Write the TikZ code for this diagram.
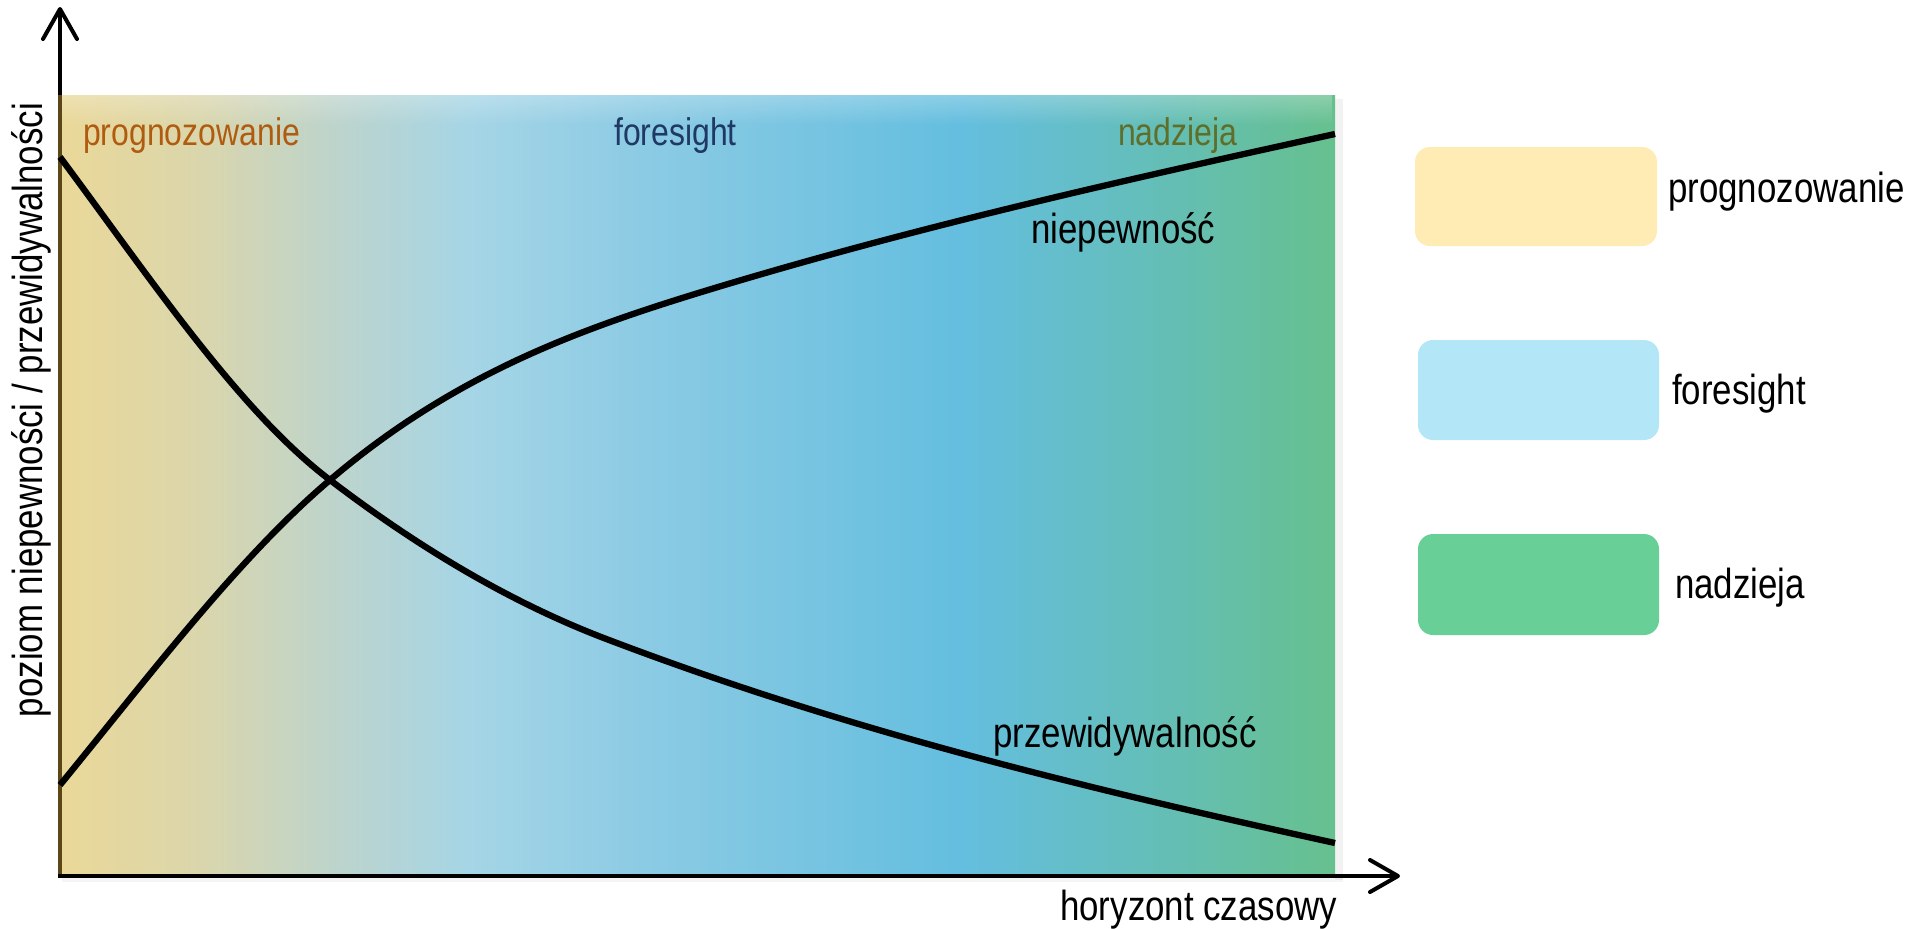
\documentclass[tikz,border=0pt]{standalone}
\usepackage{fontspec}
\setmainfont{Liberation Sans}
\usetikzlibrary{fadings}
\definecolor{g1}{RGB}{234,216,152}
\definecolor{g2}{RGB}{218,214,172}
\definecolor{g3}{RGB}{190,212,203}
\definecolor{g4}{RGB}{165,213,230}
\definecolor{g5}{RGB}{140,203,228}
\definecolor{g6}{RGB}{100,190,223}
\definecolor{g7}{RGB}{100,190,185}
\definecolor{g8}{RGB}{102,192,142}
\definecolor{legA}{RGB}{255,235,180}
\definecolor{legB}{RGB}{179,231,248}
\definecolor{legC}{RGB}{104,208,150}
\definecolor{txtA}{RGB}{176,92,16}
\definecolor{txtB}{RGB}{31,56,100}
\definecolor{txtC}{RGB}{95,110,40}
\definecolor{axbrown}{RGB}{90,70,22}
\newcommand\biglbl[1]{\scalebox{0.83}[1]{\fontsize{42}{50}\selectfont #1}}
\newcommand\toplbl[1]{\scalebox{0.83}[1]{\fontsize{38.5}{46}\selectfont #1}}
\begin{document}
\begin{tikzpicture}[x=1pt,y=-1pt,
  curve/.style={line width=6.3pt,black},
  axisline/.style={line width=4pt,black},
  barb/.style={line width=4pt,black,line cap=round,line join=round},
  legbox/.style={rounded corners=15pt},
  lab/.style={inner sep=0pt,anchor=base west}]
\useasboundingbox (0,0) rectangle (1917,929);
% coordinates
\coordinate (O) at (60,876);
\coordinate (Ytip) at (60,9);
\coordinate (Yl) at (43,39);
\coordinate (Yr) at (77,39);
\coordinate (Xtip) at (1398,876);
\coordinate (Xu) at (1370,860);
\coordinate (Xd) at (1370,892);
\coordinate (P0) at (60,157);
\coordinate (X) at (330,480);
\coordinate (P2) at (609,640);
\coordinate (P3) at (1335,843);
\coordinate (N0) at (60,785);
\coordinate (N2) at (718,287);
\coordinate (N3) at (1335,134);
% soft shadow of the chart area
\fill[black,opacity=0.05] (1335,99) rectangle (1343,880);
\fill[black,opacity=0.04] (62,876) rectangle (1343,882);
% axes
\draw[axisline] (O) -- (Ytip);
\draw[barb] (Yl) -- (Ytip) -- (Yr);
% gradient background
\shade[left color=g1,right color=g2] (59,95) rectangle (201,876);
\shade[left color=g2,right color=g3] (200,95) rectangle (331,876);
\shade[left color=g3,right color=g4] (330,95) rectangle (471,876);
\shade[left color=g4,right color=g5] (470,95) rectangle (641,876);
\shade[left color=g5,right color=g6] (640,95) rectangle (961,876);
\shade[left color=g6,right color=g7] (960,95) rectangle (1151,876);
\shade[left color=g7,right color=g8] (1150,95) rectangle (1335,876);
\fill[white,opacity=0.25,path fading=south] (59,95) rectangle (1335,125);
\draw[line width=4pt,axbrown] (60,95) -- (O);
\draw[axisline] (58,876) -- (Xtip);
\draw[barb] (Xu) -- (Xtip) -- (Xd);
% curves
\draw[curve] (P0) .. controls (150,278) and (240,412) .. (X)
                  .. controls (423,551) and (516,605) .. (P2)
                  .. controls (851,732) and (1093,790) .. (P3);
\draw[curve] (N0) .. controls (150,675) and (240,556) .. (X)
                  .. controls (459,370) and (589,326) .. (N2)
                  .. controls (924,225) and (1129,179) .. (N3);
% labels in chart
\node[lab,text=txtA] (tA) at (83,145) {\toplbl{prognozowanie}};
\node[lab,text=txtB] (tB) at (614,145) {\toplbl{foresight}};
\node[lab,text=txtC] (tC) at (1118,145) {\toplbl{nadzieja}};
\node[lab] (niep) at (1031,243) {\biglbl{niepewność}};
\node[lab] (przew) at (993,747) {\biglbl{przewidywalność}};
\node[lab] (hor) at (1060,920) {\biglbl{horyzont czasowy}};
\node[inner sep=0pt,anchor=base,rotate=90] (ylab) at (42,410) {\biglbl{poziom niepewności / przewidywalności}};
% legend
\fill[legbox,legA] (1415,147) rectangle (1657,246);
\fill[legbox,legB] (1418,340) rectangle (1659,440);
\fill[legbox,legC] (1418,534) rectangle (1659,635);
\node[lab] (lA) at (1668,202) {\biglbl{prognozowanie}};
\node[lab] (lB) at (1672,404) {\biglbl{foresight}};
\node[lab] (lC) at (1675,598) {\biglbl{nadzieja}};
\end{tikzpicture}
\end{document}
